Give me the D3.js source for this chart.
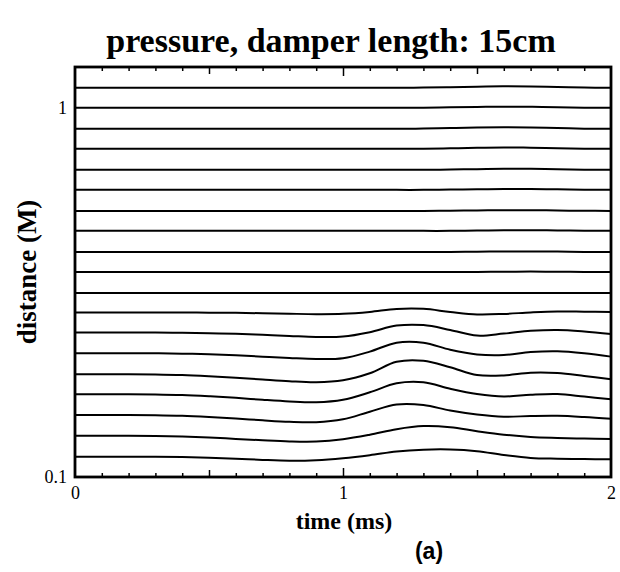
<!DOCTYPE html>
<html>
<head>
<meta charset="utf-8">
<script src="https://cdn.jsdelivr.net/npm/d3@7/dist/d3.min.js"></script>
<style>
    body { margin: 0; background: #fff; }
    svg text { font-family: "Liberation Serif", "Times New Roman", serif; fill: #000; }
</style>
</head>
<body>
<div id="chart"></div>
<script>
// time samples (ms)
const times = [0, 0.1, 0.2, 0.3, 0.4, 0.5, 0.6, 0.7, 0.8, 0.9, 1.0,
               1.1, 1.2, 1.3, 1.4, 1.5, 1.6, 1.7, 1.8, 1.9, 2.0]

// probe distances (M), bottom trace first
const distances = [0.1135, 0.1294, 0.1472, 0.1675, 0.1898, 0.2164, 0.2461, 0.2791,
                   0.3152, 0.3594, 0.4071, 0.4642, 0.5258, 0.5995, 0.6792, 0.7743,
                   0.8772, 1.0, 1.133]

// relative pressure of each trace at the time samples
const pressures = [
    [0, 0, 0, 0, -0.3, -1, -2, -3.2, -4, -3.5, -1.5, 1.5, 5.2, 7, 7.2, 5.5, 1.7, -1.2, -2, -2.4, -2.6],
    [0, 0, 0, -0.2, -0.8, -1.8, -3.2, -4.6, -5.7, -5.8, -3.5, 1, 6.5, 9.6, 8.5, 4.5, 1, -1.2, -2.2, -2.9, -3.4],
    [0, 0, 0, -0.2, -0.8, -2, -3.5, -5.3, -6.8, -7.2, -4.3, 3.3, 10.5, 10, 4.5, 0.5, -1.7, -1, -0.8, -2, -3.8],
    [0, 0, 0, -0.2, -0.8, -2, -3.5, -5.5, -7.2, -8, -5.5, 2, 11, 12, 5.5, 0.3, -2.2, -0.5, 0.2, -2.3, -5],
    [0, 0, 0, -0.2, -0.8, -2, -3.5, -5.3, -7, -8, -6, 1, 12.5, 13.5, 7, -0.8, -1.2, 1.5, 1.2, -1.7, -5],
    [0, 0, 0, 0, -0.4, -1, -2, -3.5, -4.8, -5.8, -5, 1.6, 10.5, 10.5, 3.5, -1.2, -1.8, 1.2, 2, 0, -3.4],
    [0, 0, 0, 0, -0.2, -0.6, -1.2, -2.2, -3.3, -4.4, -4, 0.4, 7, 7.5, 2.7, -3, -1, 1.8, 2.7, 1.2, -1.3],
    [0, 0, 0, 0, 0, -0.2, -0.4, -0.8, -1.3, -1.7, -1.4, 0.5, 3.5, 3.6, 0.5, -2, -1.5, 0, 1, 0.8, 0.5],
    [0, 0, 0, 0, 0, 0, 0, 0, 0, 0, 0, 0, 0, 0, 0, 0, 0, 0, 0, 0, 0],
    [0, 0, 0, 0, 0, 0, 0, 0, 0, 0, 0, 0, 0, 0, 0, 0, 0.2, 0.3, 0.2, 0, 0],
    [0, 0, 0, 0, 0, 0, 0, 0, 0, 0, 0, 0, 0, 0, 0, 0.2, 0.4, 0.5, 0.3, 0, 0],
    [0, 0, 0, 0, 0, 0, 0, 0, 0, 0, 0, 0, 0, 0, 0, 0.3, 0.5, 0.6, 0.4, 0.1, 0],
    [0, 0, 0, 0, 0, 0, 0, 0, 0, 0, 0, 0, 0, 0, 0.2, 0.5, 0.7, 0.7, 0.4, 0.1, 0],
    [0, 0, 0, 0, 0, 0, 0, 0, 0, 0, 0, 0, 0, 0, 0.3, 0.6, 0.8, 0.8, 0.5, 0.2, 0],
    [0, 0, 0, 0, 0, 0, 0, 0, 0, 0, 0, 0, 0, 0, 0.3, 0.7, 1, 1, 0.6, 0.2, 0],
    [0, 0, 0, 0, 0, 0, 0, 0, 0, 0, 0, 0, 0, 0.2, 0.5, 1, 1.3, 1.2, 0.7, 0.2, 0],
    [0, 0, 0, 0, 0, 0, 0, 0, 0, 0, 0, 0, 0, 0.3, 0.8, 1.4, 1.6, 1.4, 0.8, 0.2, 0],
    [0, 0, 0, 0, 0, 0, 0, 0, 0, 0, 0, 0, 0, 0.2, 0.5, 0.9, 1.1, 1, 0.6, 0.2, 0],
    [0, 0, 0, 0, 0, 0, 0, 0, 0, 0, 0, 0, 0, 0.2, 0.6, 1.1, 1.5, 1.4, 0.8, 0.2, 0]
]

const xLabels = [0, 1, 2]
const yLabels = [0.1, 1]
const xMinorTicks = [0.1, 0.2, 0.3, 0.4, 0.6, 0.7, 0.8, 0.9, 1.1, 1.2, 1.3, 1.4, 1.6, 1.7, 1.8, 1.9]
const xHalfTicks = [0.5, 1.5]
const xMajorTicks = [1]

const width = 620
const height = 572
const plotLeft = 75, plotRight = 611, plotTop = 67, plotBottom = 477

const svg = d3.select('#chart').append('svg')
    .attr('width', width)
    .attr('height', height)

const x = d3.scaleLinear().domain([0, 2]).range([plotLeft, plotRight])
const y = d3.scaleLog().domain([0.1, 1.29]).range([plotBottom, plotTop])
// pressure offset in pixels around each trace's baseline
const p = d3.scaleLinear().domain([-10, 20]).range([10, -20])

// traces
const line = d3.line()
    .x((d, i) => x(times[i]))
    .curve(d3.curveCatmullRom.alpha(0.5))

svg.append('g')
    .selectAll('path')
    .data(pressures)
    .enter()
    .append('path')
    .attr('fill', 'none')
    .attr('stroke', '#000')
    .attr('stroke-width', 2)
    .attr('d', (row, k) => line.y(v => y(distances[k]) + p(v))(row))

// inward ticks on top and bottom
function ticks (values, len) {
    svg.append('g')
        .attr('transform', `translate(0, ${plotBottom})`)
        .call(d3.axisBottom(x).tickValues(values).tickSizeInner(-len).tickSizeOuter(0).tickFormat(''))
        .call(g => g.select('.domain').remove())
        .selectAll('line').attr('stroke-width', 1.5)
    svg.append('g')
        .attr('transform', `translate(0, ${plotTop})`)
        .call(d3.axisTop(x).tickValues(values).tickSizeInner(-len).tickSizeOuter(0).tickFormat(''))
        .call(g => g.select('.domain').remove())
        .selectAll('line').attr('stroke-width', 1.5)
}
ticks(xMinorTicks, 4)
ticks(xHalfTicks, 7)
ticks(xMajorTicks, 9)

// frame
svg.append('rect')
    .attr('x', plotLeft)
    .attr('y', plotTop)
    .attr('width', plotRight - plotLeft)
    .attr('height', plotBottom - plotTop)
    .attr('fill', 'none')
    .attr('stroke', '#000')
    .attr('stroke-width', 2.8)

// tick labels
svg.append('g')
    .attr('transform', `translate(0, ${plotBottom})`)
    .call(d3.axisBottom(x).tickValues(xLabels).tickSize(0).tickPadding(9).tickFormat(d3.format('d')))
    .call(g => g.select('.domain').remove())
    .selectAll('text')
    .attr('font-size', 18)
    .attr('font-family', '"Liberation Serif", serif')

svg.append('g')
    .attr('transform', `translate(${plotLeft}, 0)`)
    .call(d3.axisLeft(y).tickValues(yLabels).tickSize(0).tickPadding(8).tickFormat(d => d === 1 ? '1' : '0.1'))
    .call(g => g.select('.domain').remove())
    .selectAll('text')
    .attr('font-size', 18)
    .attr('font-family', '"Liberation Serif", serif')

// titles
svg.append('text')
    .attr('x', 331)
    .attr('y', 52)
    .attr('text-anchor', 'middle')
    .attr('font-size', 34)
    .attr('font-weight', 'bold')
    .text('pressure, damper length: 15cm')

svg.append('text')
    .attr('transform', `translate(36, ${(plotTop + plotBottom) / 2}) rotate(-90)`)
    .attr('text-anchor', 'middle')
    .attr('font-size', 27)
    .attr('font-weight', 'bold')
    .text('distance (M)')

svg.append('text')
    .attr('x', 344)
    .attr('y', 529)
    .attr('text-anchor', 'middle')
    .attr('font-size', 24)
    .attr('font-weight', 'bold')
    .text('time (ms)')

svg.append('text')
    .attr('x', 429)
    .attr('y', 559)
    .attr('text-anchor', 'middle')
    .attr('font-size', 23)
    .attr('font-weight', 'bold')
    .style('font-family', '"Liberation Sans", Arial, sans-serif')
    .text('(a)')
</script>
</body>
</html>
